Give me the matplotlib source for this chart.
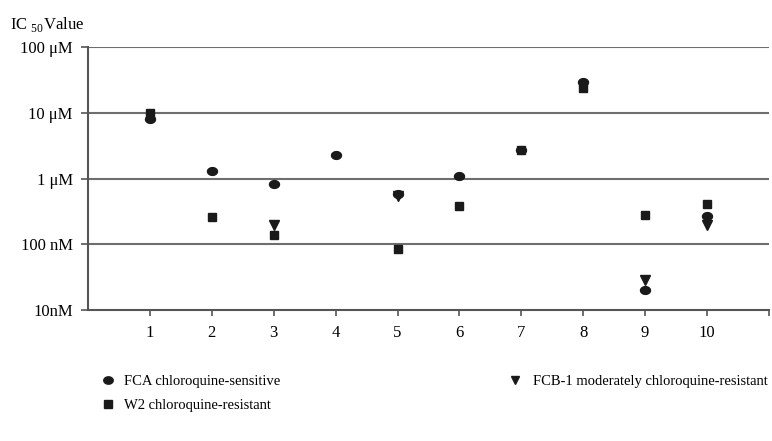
from matplotlib import pyplot as plt
from matplotlib.lines import Line2D
import numpy as np

plt.rcParams['font.family'] = ['Liberation Serif', 'DejaVu Serif']
plt.rcParams['mathtext.fontset'] = 'custom'
plt.rcParams['mathtext.rm'] = 'Liberation Serif'

# IC50 values in molar, nan = not shown
compounds = [1, 2, 3, 4, 5, 6, 7, 8, 9, 10]
fca = [8.0e-6, 1.3e-6, 8.4e-7, 2.3e-6, 5.9e-7, 1.1e-6, 2.75e-6, 3.0e-5, 2.0e-8, 2.7e-7]
fcb1 = [np.nan, np.nan, 1.95e-7, np.nan, 5.4e-7, np.nan, np.nan, np.nan, 2.9e-8, 1.95e-7]
w2 = [1.0e-5, 2.6e-7, 1.37e-7, np.nan, 8.4e-8, 3.8e-7, 2.7e-6, 2.4e-5, 2.8e-7, 4.1e-7]

ytick_vals = [1e-8, 1e-7, 1e-6, 1e-5, 1e-4]
ytick_labels = ["10nM", "100 nM", "1 μM", "10 μM", "100 μM"]

# slightly flattened dot like the original
t = np.linspace(0, 2 * np.pi, 40)
ellipse = np.column_stack([np.cos(t), 0.78 * np.sin(t)])

fig = plt.figure(figsize=(7.72, 4.41), dpi=100)
ax = fig.add_axes([0.114, 0.297, 0.882, 0.596])

col = '#1a1a1a'
ax.plot(compounds, w2, 's', color=col, ms=5.6, linestyle='none', zorder=3)
ax.plot(compounds, fcb1, 'v', color=col, ms=6.5, linestyle='none', zorder=4)
ax.plot(compounds, fca, marker=ellipse, color=col, ms=7.2, linestyle='none', zorder=5)

ax.set_yscale('log')
ax.set_ylim(1e-8, 1e-4)
ax.set_xlim(0, 11)
ax.set_yticks(ytick_vals)
ax.set_yticklabels(ytick_labels)
ax.minorticks_off()
ax.set_xticks(range(1, 12))
ax.set_xticklabels([str(i) for i in compounds] + [""])
ax.tick_params(axis='both', labelsize=12, color='#555555', length=5, width=1.2, pad=6)
ax.tick_params(axis='x', length=4, pad=7)

for v in ytick_vals[1:]:
    ax.axhline(v, color='#6e6e6e', lw=1.5, zorder=1)

for s in ['top', 'right']:
    ax.spines[s].set_visible(False)
for s in ['left', 'bottom']:
    ax.spines[s].set_color('#555555')
    ax.spines[s].set_linewidth(1.5)

fig.text(0.013, 0.945, "IC $_{50}$Value", fontsize=12, ha='left', va='center')

h_fca = Line2D([], [], marker=ellipse, color=col, ms=6.8, linestyle='none')
h_fcb = Line2D([], [], marker='v', color=col, ms=6, linestyle='none')
h_w2 = Line2D([], [], marker='s', color=col, ms=5.3, linestyle='none')

leg1 = fig.legend([h_fca, h_w2], ["FCA chloroquine-sensitive", "W2 chloroquine-resistant"],
                  loc='upper left', bbox_to_anchor=(0.131, 0.151), frameon=False,
                  fontsize=10.5, handletextpad=0.55, labelspacing=0.75, handlelength=1.0,
                  borderaxespad=0, borderpad=0)
leg2 = fig.legend([h_fcb], ["FCB-1 moderately chloroquine-resistant"],
                  loc='upper left', bbox_to_anchor=(0.658, 0.151), frameon=False,
                  fontsize=10.5, handletextpad=0.7, handlelength=1.0,
                  borderaxespad=0, borderpad=0)

fig.savefig("out.png", dpi=100)
